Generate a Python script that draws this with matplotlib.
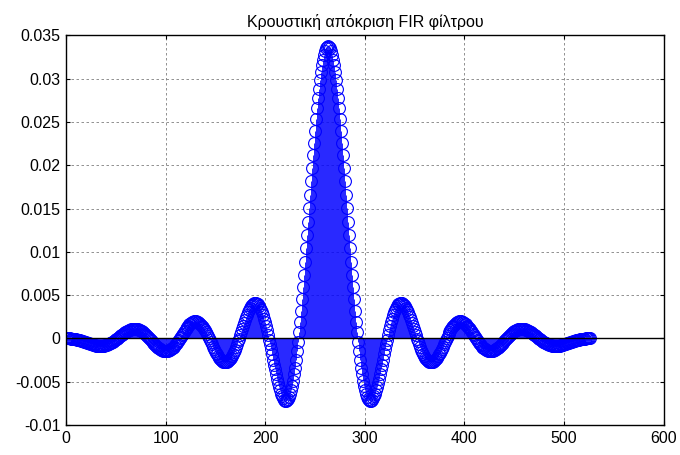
import numpy as np
import matplotlib
matplotlib.use('Agg')
import matplotlib.pyplot as plt
from matplotlib.ticker import FormatStrFormatter

plt.rcParams['font.family'] = ['Liberation Sans', 'DejaVu Sans']
plt.rcParams['axes.unicode_minus'] = False

# least-squares lowpass (firls style), band edges normalised to Nyquist
numtaps = 527
band_edges = [0.0, 0.0325, 0.0375, 1.0]
band_gains = [1.0, 0.0]
band_weights = [1.0, 300.0]

x_ticks = [0, 100, 200, 300, 400, 500, 600]
y_ticks = [-0.01, -0.005, 0, 0.005, 0.01, 0.015, 0.02, 0.025, 0.03, 0.035]
title = 'Κρουστική απόκριση FIR φίλτρου'


def int_cos(m, lo, hi):
    # integral of cos(m*w) over [lo, hi]
    m = np.asarray(m, float)
    out = np.empty_like(m)
    z = m == 0
    out[z] = hi - lo
    out[~z] = (np.sin(m[~z] * hi) - np.sin(m[~z] * lo)) / m[~z]
    return out


def firls_lowpass(ntaps, edges, gains, weights):
    M = (ntaps - 1) // 2
    k = np.arange(M + 1)
    I, J = np.meshgrid(k, k, indexing='ij')
    G = np.zeros((M + 1, M + 1))
    b = np.zeros(M + 1)
    for i in range(len(gains)):
        lo, hi = np.pi * edges[2 * i], np.pi * edges[2 * i + 1]
        G += weights[i] * 0.5 * (int_cos(I - J, lo, hi) + int_cos(I + J, lo, hi))
        b += weights[i] * gains[i] * int_cos(k, lo, hi)
    a = np.linalg.solve(G, b)
    return np.r_[a[:0:-1] / 2, a[0], a[1:] / 2]


h = firls_lowpass(numtaps, band_edges, band_gains, band_weights)
n = np.arange(numtaps)

fig = plt.figure(figsize=(6.8, 4.55), dpi=100)
ax = fig.add_axes([0.097, 0.066, 0.879, 0.856])

markers, stems, base = ax.stem(n, h, linefmt='b-', markerfmt='bo', basefmt=' ')
stems.set_linewidth(0.6)
markers.set_markerfacecolor('none')
markers.set_markeredgecolor('b')
markers.set_markersize(8.5)
markers.set_markeredgewidth(0.8)
ax.axhline(0, color='k', lw=1.0, zorder=4)

ax.set_xlim(0, 600)
ax.set_ylim(-0.01, 0.035)
ax.set_xticks(x_ticks)
ax.set_yticks(y_ticks)
ax.yaxis.set_major_formatter(FormatStrFormatter('%g'))
ax.grid(True, color='#7f7f7f', linestyle=(0, (3, 3)), linewidth=0.6)
ax.set_axisbelow(True)
ax.tick_params(direction='in', top=True, right=True, length=3, width=0.8, labelsize=11.5, pad=4)
for s in ax.spines.values():
    s.set_linewidth(1.0)
ax.set_title(title, fontsize=11.5, pad=6)

fig.savefig('out.png', dpi=100)
